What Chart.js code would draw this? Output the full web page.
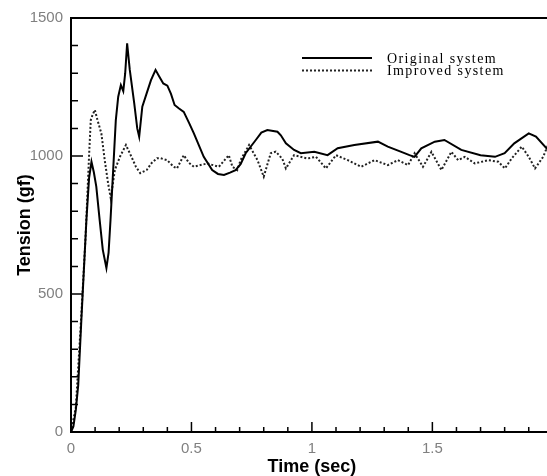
<!DOCTYPE html>
<html>
<head>
<meta charset="utf-8">
<title>Tension vs Time</title>
<script src="https://cdn.jsdelivr.net/npm/chart.js@4.4.0/dist/chart.umd.min.js"></script>
<style>
    html, body {
        margin: 0;
        padding: 0;
        background: #ffffff;
        overflow: hidden;
    }
    #wrap {
        width: 565px;
        height: 476px;
    }
</style>
</head>
<body>
<div id="wrap">
    <canvas id="Chart" width="565" height="476"></canvas>
</div>
<script>
// values
const timeOriginal = [0, 0.01, 0.02, 0.03, 0.043, 0.057, 0.064, 0.075, 0.085, 0.095, 0.105, 0.119, 0.132, 0.147, 0.156, 0.164,
    0.175, 0.186, 0.196, 0.207, 0.217, 0.225, 0.233, 0.244, 0.2625, 0.275, 0.283, 0.296, 0.314, 0.332, 0.351, 0.365, 0.383,
    0.40, 0.415, 0.43, 0.447, 0.468, 0.49, 0.51, 0.551, 0.586, 0.61, 0.635, 0.66, 0.683, 0.704, 0.725, 0.767, 0.79, 0.815,
    0.857, 0.871, 0.892, 0.926, 0.954, 1.01, 1.065, 1.107, 1.176, 1.274, 1.315, 1.371, 1.405, 1.426, 1.454, 1.51, 1.55,
    1.62, 1.70, 1.76, 1.80, 1.84, 1.90, 1.93, 1.98, 2.0];
const tensionOriginal = [0, 20, 80, 170, 406, 648, 768, 920, 979, 940, 889, 768, 660, 594, 650, 768,
    949, 1130, 1215, 1257, 1235, 1300, 1408, 1312, 1191, 1100, 1070, 1179, 1227, 1275, 1312, 1290, 1263,
    1255, 1225, 1185, 1173, 1160, 1120, 1082, 997, 949, 935, 931, 940, 949, 970, 1010, 1058, 1085, 1094,
    1088, 1075, 1046, 1022, 1010, 1015, 1003, 1028, 1040, 1052, 1034, 1015, 1003, 997, 1028, 1052, 1058,
    1022, 1003, 997, 1010, 1046, 1082, 1070, 1022, 1015];

const timeImproved = [0, 0.02, 0.04, 0.06, 0.07, 0.076, 0.082, 0.09, 0.099, 0.11, 0.126, 0.14, 0.154, 0.165, 0.182, 0.203,
    0.228, 0.251, 0.27, 0.2875, 0.314, 0.335, 0.357, 0.371, 0.399, 0.426, 0.44, 0.468, 0.49, 0.51, 0.565, 0.614, 0.655,
    0.67, 0.69, 0.704, 0.739, 0.774, 0.80, 0.829, 0.85, 0.877, 0.892, 0.926, 0.982, 1.017, 1.058, 1.10, 1.149, 1.204,
    1.26, 1.315, 1.357, 1.399, 1.426, 1.461, 1.496, 1.5375, 1.579, 1.607, 1.635, 1.676, 1.732, 1.774, 1.801, 1.829,
    1.871, 1.90, 1.926, 1.96, 1.98, 2.0];
const tensionImproved = [0, 90, 380, 700, 900, 1020, 1130, 1150, 1167, 1130, 1082, 985, 901, 847, 949, 997,
    1040, 997, 960, 938, 949, 975, 992, 992, 985, 961, 955, 1003, 975, 961, 973, 961, 1003,
    961, 949, 985, 1040, 985, 925, 1010, 1016, 990, 955, 1003, 991, 997, 955, 1003, 985, 961,
    985, 967, 985, 967, 1010, 961, 1015, 949, 1015, 985, 997, 973, 985, 979, 955, 991,
    1034, 997, 955, 997, 1040, 1030];

const seriesLabels = ['Original system', 'Improved system'];
const xTickValues = [0, 0.5, 1, 1.5, 2];
const yTickValues = [0, 500, 1000, 1500];

function toPoints(xs, ys) {
    let pts = [];
    for (let i = 0; i < xs.length; i++) {
        pts.push({x: xs[i], y: ys[i]});
    }
    return pts;
}

// frame round the plot + small inward ticks like the original
const framePlugin = {
    id: 'frame',
    afterDatasetsDraw(chart) {
        const ctx = chart.ctx;
        const area = chart.chartArea;
        const xs = chart.scales.x;
        const ys = chart.scales.y;
        ctx.save();
        ctx.strokeStyle = '#000';
        ctx.lineWidth = 2;
        ctx.strokeRect(area.left, area.top, area.right - area.left, area.bottom - area.top);

        ctx.lineWidth = 1.5;
        ctx.beginPath();
        for (let i = 0; i <= 20; i++) {
            const px = xs.getPixelForValue(i / 10);
            const len = (i % 5 === 0) ? 10 : 5;
            ctx.moveTo(px, area.bottom);
            ctx.lineTo(px, area.bottom - len);
        }
        for (let i = 0; i <= 15; i++) {
            const py = ys.getPixelForValue(i * 100);
            const len = (i % 5 === 0) ? 12 : 7;
            ctx.moveTo(area.left, py);
            ctx.lineTo(area.left + len, py);
        }
        ctx.stroke();
        ctx.restore();
    }
};

// legend in the top right corner of the plot, serif text
const legendPlugin = {
    id: 'cornerLegend',
    afterDraw(chart) {
        const ctx = chart.ctx;
        const area = chart.chartArea;
        const x0 = area.left + 231;
        const x1 = area.left + 301;
        const textX = area.left + 316;
        ctx.save();
        chart.data.datasets.forEach((ds, i) => {
            const y = area.top + 40 + i * 12.5;
            ctx.strokeStyle = ds.borderColor;
            ctx.lineWidth = ds.borderWidth;
            ctx.setLineDash(ds.borderDash || []);
            ctx.beginPath();
            ctx.moveTo(x0, y);
            ctx.lineTo(x1, y);
            ctx.stroke();
            ctx.setLineDash([]);
            ctx.fillStyle = '#000';
            ctx.font = '14px "Liberation Serif", "Times New Roman", serif';
            ctx.letterSpacing = '1.4px';
            ctx.textBaseline = 'middle';
            ctx.textAlign = 'left';
            ctx.fillText(ds.label, textX, y + 1);
        });
        ctx.restore();
    }
};

const tickFont = {family: '"Liberation Sans", Arial, sans-serif', size: 15};
const titleFont = {family: '"Liberation Sans", Arial, sans-serif', size: 18, weight: 'bold', lineHeight: 1};

let chartElement = document.getElementById('Chart').getContext('2d');
let chart = new Chart(chartElement, {
    type: 'line',
    data: {
        datasets: [{
            label: seriesLabels[0],
            data: toPoints(timeOriginal, tensionOriginal),
            borderColor: '#000000',
            borderWidth: 2,
            pointRadius: 0,
            tension: 0,
            fill: false
        }, {
            label: seriesLabels[1],
            data: toPoints(timeImproved, tensionImproved),
            borderColor: '#222222',
            borderWidth: 2,
            borderDash: [2, 2],
            pointRadius: 0,
            tension: 0,
            fill: false
        }]
    },
    options: {
        animation: false,
        responsive: false,
        maintainAspectRatio: false,
        layout: {
            padding: {top: 18, right: 0, left: 0, bottom: 0}
        },
        plugins: {
            legend: {display: false},
            tooltip: {enabled: false}
        },
        scales: {
            x: {
                type: 'linear',
                min: 0,
                max: 2,
                afterBuildTicks: (scale) => {
                    scale.ticks = xTickValues.map(v => ({value: v}));
                },
                afterFit: (scale) => { scale.height = 44; },
                grid: {display: false, drawTicks: false},
                border: {display: false},
                ticks: {
                    color: '#808080',
                    font: tickFont,
                    padding: 8,
                    maxRotation: 0,
                    callback: (value) => String(value)
                },
                title: {
                    display: true,
                    text: 'Time (sec)',
                    color: '#000',
                    font: titleFont,
                    padding: {top: 0, bottom: 0}
                }
            },
            y: {
                type: 'linear',
                min: 0,
                max: 1500,
                afterBuildTicks: (scale) => {
                    scale.ticks = yTickValues.map(v => ({value: v}));
                },
                afterFit: (scale) => { scale.width = 71; },
                grid: {display: false, drawTicks: false},
                border: {display: false},
                ticks: {
                    color: '#808080',
                    font: tickFont,
                    padding: 8,
                    callback: (value) => String(value)
                },
                title: {
                    display: true,
                    text: 'Tension (gf)',
                    color: '#000',
                    font: titleFont,
                    padding: {top: 16, bottom: 0}
                }
            }
        }
    },
    plugins: [framePlugin, legendPlugin]
});
</script>
</body>
</html>
